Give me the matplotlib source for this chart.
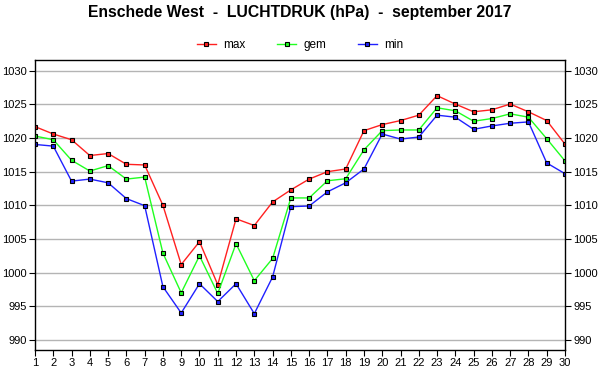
import matplotlib
matplotlib.use("Agg")
import matplotlib.pyplot as plt
import numpy as np

days = list(range(1, 31))
p_max = [1021.7, 1020.6, 1019.75, 1017.4, 1017.7, 1016.1, 1016.0, 1010.0, 1001.2, 1004.6,
         998.2, 1008.0, 1007.0, 1010.5, 1012.3, 1013.9, 1015.0, 1015.4, 1021.1, 1022.0,
         1022.6, 1023.4, 1026.3, 1025.05, 1023.9, 1024.2, 1025.05, 1023.9, 1022.6, 1019.1]
p_gem = [1020.3, 1019.75, 1016.7, 1015.1, 1015.9, 1013.9, 1014.2, 1002.9, 997.0, 1002.5,
         996.9, 1004.3, 998.8, 1002.1, 1011.1, 1011.1, 1013.65, 1013.95, 1018.25, 1021.1,
         1021.2, 1021.2, 1024.5, 1024.05, 1022.5, 1022.9, 1023.6, 1023.1, 1019.9, 1016.6]
p_min = [1019.05, 1018.8, 1013.6, 1013.9, 1013.35, 1011.0, 1009.95, 997.9, 994.0, 998.35,
         995.7, 998.35, 993.9, 999.35, 1009.8, 1009.9, 1012.0, 1013.35, 1015.4, 1020.6,
         1019.85, 1020.15, 1023.4, 1023.1, 1021.3, 1021.8, 1022.2, 1022.4, 1016.3, 1014.7]
yticks = [990, 995, 1000, 1005, 1010, 1015, 1020, 1025, 1030]

plt.rcParams["font.family"] = ["Liberation Sans", "DejaVu Sans"]

fig = plt.figure(figsize=(6, 3.9), dpi=100)
ax = fig.add_axes([35/600, 1-350/390, 530/600, 290/390])

for vals, col, lab in ((p_max, "#ff2020", "max"), (p_gem, "#20ff20", "gem"), (p_min, "#2020ff", "min")):
    ax.plot(days, vals, color=col, lw=1.0, marker="s", ms=3.5, mfc=col, mec="black",
            mew=0.8, label=lab)

ax.set_xlim(1, 30)
ax.set_ylim(988.5, 1031.6)
ax.set_xticks(days)
ax.set_yticks(yticks)
ax.yaxis.grid(True, color="#b4b4b4", lw=1.0)
ax.set_axisbelow(True)
ax.tick_params(axis="both", labelsize=8, length=4, width=0.8, direction="out", pad=2)
ax.tick_params(axis="y", right=True, labelright=True)
for s in ax.spines.values():
    s.set_linewidth(1.0)

h, l = ax.get_legend_handles_labels()
fig.legend(h, l, loc="center", bbox_to_anchor=(0.5, 1-45/390), ncol=3, frameon=False,
           fontsize=8.5, handlelength=1.6, columnspacing=2.7, handletextpad=0.6,
           borderpad=0.2)
fig.text(0.5, 1-13/390, "Enschede West  -  LUCHTDRUK (hPa)  -  september 2017",
         ha="center", va="center", fontsize=11.3, fontweight="bold")

fig.savefig("out.png", dpi=100)
